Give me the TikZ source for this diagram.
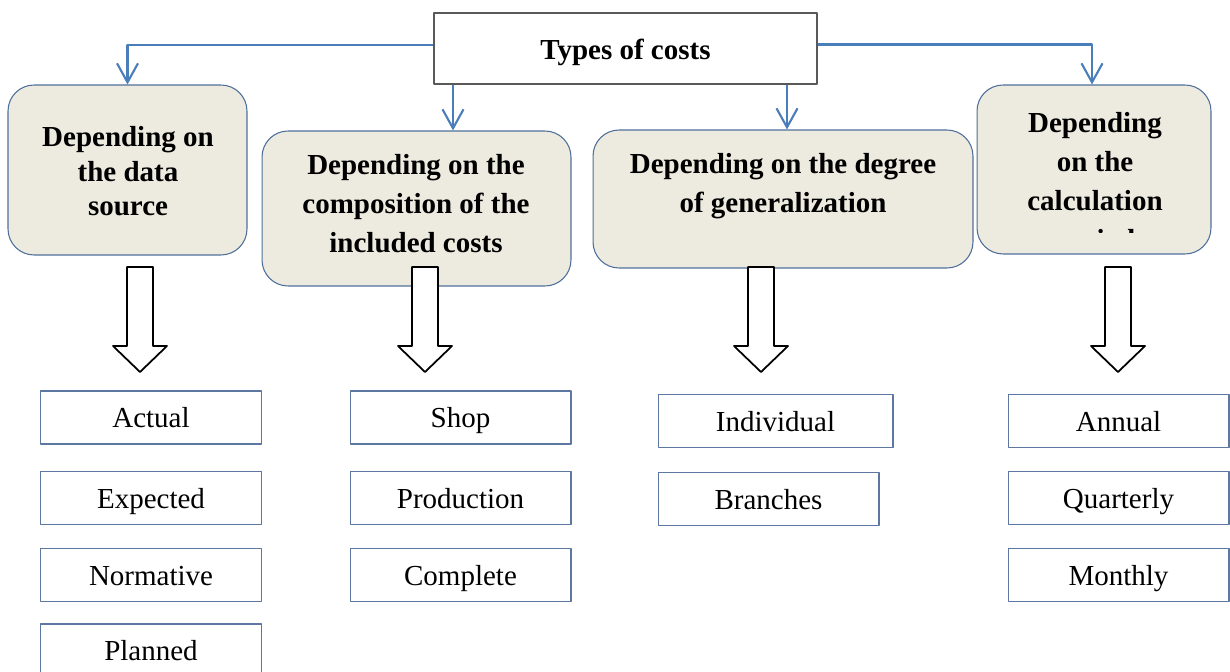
\documentclass[tikz,border=0pt]{standalone}
\usepackage{fontspec}
\setmainfont{Liberation Serif}
\usetikzlibrary{arrows.meta}
\definecolor{boxfill}{HTML}{EDEBE0}
\definecolor{boxline}{HTML}{4F6F9A}
\definecolor{itemline}{HTML}{5C77A0}
\definecolor{connblue}{HTML}{4A7EBB}
\begin{document}
\begin{tikzpicture}[x=0.02cm, y=-0.02cm, line join=round,
	topbox/.style={draw=gray!70!black, line width=0.8pt, fill=white, inner sep=0pt, minimum width=7.66cm, minimum height=1.42cm, text height=0.46cm, text depth=0pt, font=\fontsize{16.5}{20}\selectfont\bfseries},
	catbox/.style={draw=boxline, line width=0.6pt, fill=boxfill, rounded corners=0.52cm, inner sep=0pt},
	cattxt/.style={inner sep=0pt, align=center, font=\fontsize{16.5}{22.1}\selectfont\bfseries},
	itembox/.style={draw=itemline, line width=0.6pt, fill=white, inner sep=0pt, minimum width=4.42cm, minimum height=1.06cm, text height=0.4cm, text depth=0pt, font=\fontsize{16.5}{20}\selectfont},
	conn/.style={draw=connblue, line width=1.2pt, -{Straight Barb[length=0.38cm, width=0.42cm]}},
	blockarr/.style={draw=black, line width=1pt, fill=white}]
\clip (0,0) rectangle (1230,672);
% top box and the four groups
\node[topbox] (tc) at (625.5,48.5) {Types of costs};
\node[catbox, minimum width=4.78cm, minimum height=3.4cm] (src) at (127.5,170) {};
\node[cattxt, anchor=north, font=\fontsize{16.5}{19.6}\selectfont\bfseries] (srctxt) at (128,126.5) {Depending on\\the data\\source};
\node[catbox, minimum width=6.18cm, minimum height=3.1cm] (comp) at (416.5,208.5) {};
\node[cattxt, anchor=north] (comptxt) at (416,154.3) {Depending on the\\composition of the\\included costs};
\node[catbox, minimum width=7.6cm, minimum height=2.76cm] (gen) at (783,199) {};
\node[cattxt, anchor=north] (gentxt) at (783,153.3) {Depending on the degree\\of generalization};
\node[catbox, minimum width=4.68cm, minimum height=3.38cm] (per) at (1094,169.5) {};
\begin{scope}
	\clip (977,85) rectangle (1211,233);
	\node[cattxt, anchor=north] (pertxt) at (1095,112.3) {Depending\\on the\\calculation\\period};
\end{scope}
% connectors
\coordinate (m1) at (453,0);
\coordinate (m2) at (787,0);
\draw[conn] ([yshift=0.07cm]tc.west) -| (src.north);
\draw[conn] ([yshift=0.08cm]tc.east) -| ([xshift=-0.04cm]per.north);
\draw[conn] (tc.south -| m1) -- (comp.north -| m1);
\draw[conn] (tc.south -| m2) -- (gen.north -| m2);
% block arrows
\foreach \cx in {140,425,761,1118}
	\draw[blockarr] (\cx-13,267)--(\cx+13,267)--(\cx+13,346)--(\cx+27,346)--(\cx,372)--(\cx-27,346)--(\cx-13,346)--cycle;
% lists
\node[itembox] (actual) at (151,417.5) {Actual};
\node[itembox] (expected) at (151,498) {Expected};
\node[itembox] (normative) at (151,575) {Normative};
\node[itembox] (planned) at (151,650.5) {Planned};
\node[itembox] (shop) at (460.5,417.5) {Shop};
\node[itembox] (production) at (460.5,498) {Production};
\node[itembox] (complete) at (460.5,575) {Complete};
\node[itembox, minimum width=4.7cm] (individual) at (775.5,421) {Individual};
\node[itembox] (branches) at (768.5,499) {Branches};
\node[itembox] (annual) at (1118.5,421) {Annual};
\node[itembox] (quarterly) at (1118.5,498) {Quarterly};
\node[itembox] (monthly) at (1118.5,575) {Monthly};
\end{tikzpicture}
\end{document}
